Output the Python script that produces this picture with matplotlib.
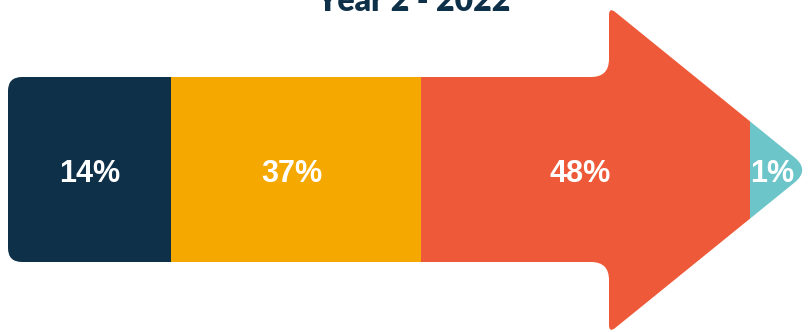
import numpy as np
import matplotlib
matplotlib.use("Agg")
import matplotlib.pyplot as plt
from matplotlib.path import Path
from matplotlib.patches import PathPatch

# data
labels = ["14%", "37%", "48%", "1%"]
values = [14, 37, 48, 1]
colors = ["#0E3049", "#F5A800", "#EE5A39", "#6CC5C8"]
title = "Year 2 - 2022"

# layout (pixel coords) - segment edges along the arrow
edges = [8, 171, 421, 750, 812]


# builds a closed path with rounded corners (quadratic curve at each vertex)
def rounded_path(pts, radii):
    n = len(pts)
    verts = []
    codes = []
    for i in range(n):
        p = np.array(pts[i], dtype=float)
        a = np.array(pts[i - 1], dtype=float)
        b = np.array(pts[(i + 1) % n], dtype=float)
        u1 = (p - a) / np.linalg.norm(p - a)
        u2 = (b - p) / np.linalg.norm(b - p)
        r = radii[i]
        start = p - u1 * r
        end = p + u2 * r
        verts.append(start)
        codes.append(Path.MOVETO if i == 0 else Path.LINETO)
        verts += [p, end]
        codes += [Path.CURVE3, Path.CURVE3]
    verts.append(verts[0])
    codes.append(Path.CLOSEPOLY)
    return Path(verts, codes)


arrow_pts = [(8, 77), (609, 77), (609, 7), (810, 170), (609, 333), (609, 262), (8, 262)]
arrow_radii = [14, 18, 8, 20, 8, 18, 14]

fig = plt.figure(figsize=(8.09, 3.32), dpi=100)
ax = fig.add_axes([0, 0, 1, 1])
ax.set_xlim(0, 809)
ax.set_ylim(332, 0)
ax.axis("off")

arrow = PathPatch(rounded_path(arrow_pts, arrow_radii), facecolor="none", edgecolor="none")
ax.add_patch(arrow)

lefts = edges[:-1]
widths = np.diff(edges)
bars = ax.bar(lefts, 340, width=widths, bottom=-4, align="edge", color=colors, linewidth=0)
for b in bars:
    b.set_clip_path(arrow)

label_x = [90, 292, 580, 772]
for i in range(len(labels)):
    ax.text(label_x[i], 174, labels[i], color="white", fontsize=22, fontweight="bold",
            family="Liberation Sans", ha="center", va="center")

# title is partly cut off at the top, like in the source image
ax.text(414, 11, title, color="#0E3049", fontsize=23, fontweight="heavy", family="Lato",
        ha="center", va="baseline")

fig.savefig("out.png", dpi=100)
